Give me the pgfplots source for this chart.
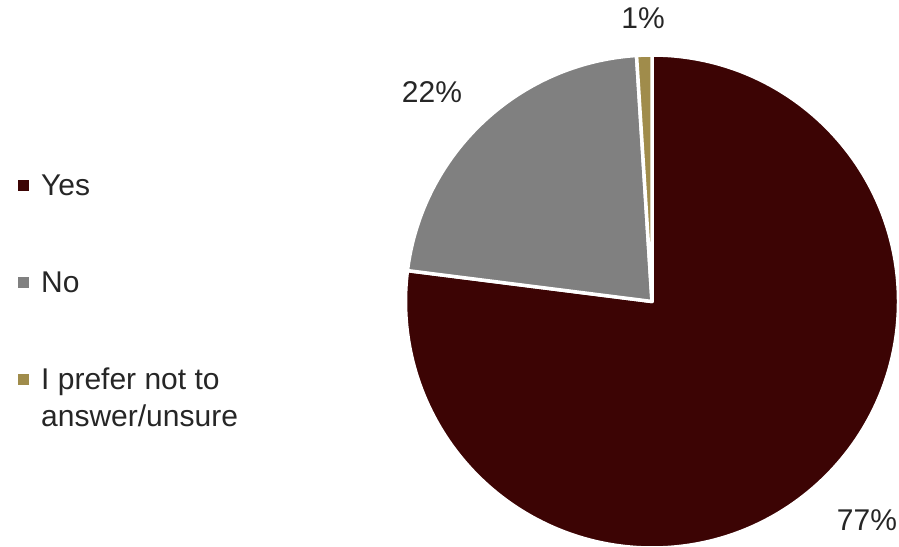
\documentclass[border=0pt]{standalone}
\usepackage{pgfplots}
\usepackage{pgfplotstable}
\pgfplotsset{compat=1.18}
\usepackage{fontspec}
\setmainfont{Liberation Sans}
\definecolor{cyes}{HTML}{3C0404}
\definecolor{cno}{HTML}{808080}
\definecolor{cuns}{HTML}{A08C4B}
\definecolor{ctext}{HTML}{262626}
\pgfplotstableread{
label value
Yes 77
No 22
Unsure 1
}\piedata
\begin{document}
\begin{tikzpicture}
\pgfplotstablegetelem{0}{value}\of\piedata \let\vA\pgfplotsretval
\pgfplotstablegetelem{1}{value}\of\piedata \let\vB\pgfplotsretval
\pgfplotstablegetelem{2}{value}\of\piedata \let\vC\pgfplotsretval
\pgfmathsetmacro{\aA}{90}
\pgfmathsetmacro{\aB}{90-3.6*\vA}
\pgfmathsetmacro{\aC}{\aB-3.6*\vB}
\pgfmathsetmacro{\aD}{\aC-3.6*\vC}
\begin{axis}[
  at={(0,0)}, anchor=south west,
  width=899pt, height=546pt, scale only axis,
  xmin=0, xmax=899, ymin=0, ymax=546,
  hide axis, clip=false,
]
\def\R{246.5}
\filldraw[fill=cyes, draw=white, line width=3.5pt, line join=round]
  (axis cs:652,244.5) -- ++(\aA:\R pt) arc[start angle=\aA, end angle=\aB, radius=\R pt] -- cycle;
\filldraw[fill=cno, draw=white, line width=3.5pt, line join=round]
  (axis cs:652,244.5) -- ++(\aB:\R pt) arc[start angle=\aB, end angle=\aC, radius=\R pt] -- cycle;
\filldraw[fill=cuns, draw=white, line width=3.5pt, line join=round]
  (axis cs:652,244.5) -- ++(\aC:\R pt) arc[start angle=\aC, end angle=\aD, radius=\R pt] -- cycle;
\node[font=\fontsize{30}{36}\selectfont, text=ctext] at (axis cs:643,528) {1\%};
\node[font=\fontsize{30}{36}\selectfont, text=ctext] at (axis cs:432,454) {22\%};
\node[font=\fontsize{30}{36}\selectfont, text=ctext] at (axis cs:867,26) {77\%};
% legend
\fill[cyes] (axis cs:18,354.5) rectangle (axis cs:29,365.5);
\fill[cno] (axis cs:18,257.5) rectangle (axis cs:29,268.5);
\fill[cuns] (axis cs:18,160.5) rectangle (axis cs:29,171.5);
\node[anchor=base west, font=\fontsize{30}{37}\selectfont, text=ctext, inner sep=0pt] at (axis cs:41,350) {Yes};
\node[anchor=base west, font=\fontsize{30}{37}\selectfont, text=ctext, inner sep=0pt] at (axis cs:41,253) {No};
\node[anchor=base west, font=\fontsize{30}{37}\selectfont, text=ctext, inner sep=0pt] at (axis cs:41,156) {I prefer not to};
\node[anchor=base west, font=\fontsize{30}{37}\selectfont, text=ctext, inner sep=0pt] at (axis cs:41,119) {answer/unsure};
\end{axis}
\pgfresetboundingbox
\path (0,0) rectangle (899pt,546pt);
\end{tikzpicture}
\end{document}
